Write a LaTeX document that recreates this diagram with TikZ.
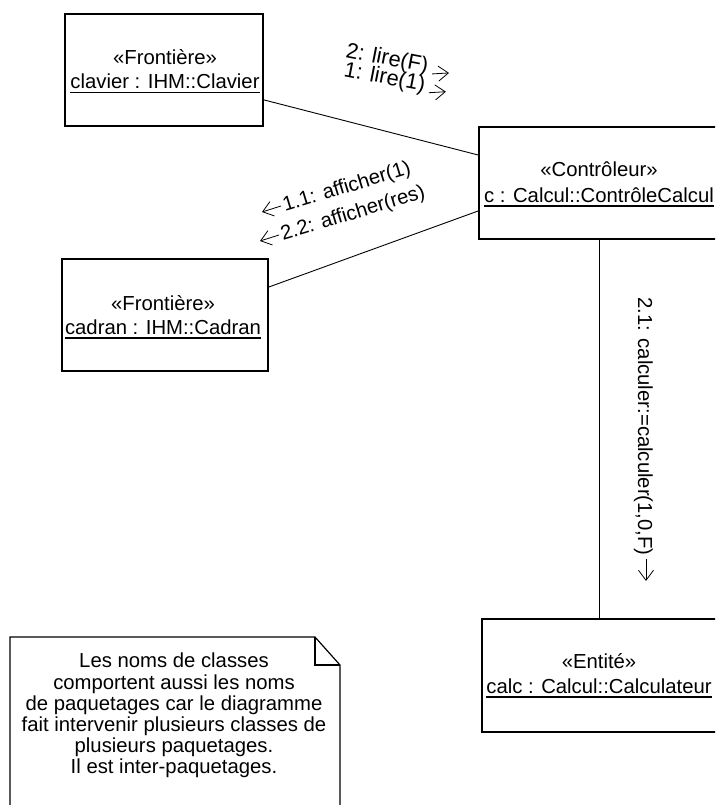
\documentclass[tikz,border=0pt]{standalone}
\usepackage{fontspec}
\setmainfont{Liberation Sans}
\usetikzlibrary{calc,arrows.meta}

\newcommand\umlfont{\fontsize{20.3}{21.1}\selectfont}
\newcommand\lirefont{\fontsize{21.8}{22}\selectfont}

\tikzset{
  objbox/.style={draw, line width=1.8pt, rectangle, inner sep=0pt},
  boxtext/.style={anchor=base, inner sep=0pt, font=\umlfont},
  underl/.style={line width=1.6pt},
  link/.style={line width=0.9pt},
  msg/.style={inner sep=0pt, font=\umlfont},
  msgarrow/.style={line width=0.8pt, -{Straight Barb[length=10pt,width=15pt]}},
  notepen/.style={line width=1.2pt},
}

\begin{document}
\begin{tikzpicture}[x=1pt,y=-1pt]
\clip (0,0) rectangle (715,805);
\fill[white] (0,0) rectangle (715,805);

% --- objects -------------------------------------------------------
\node[objbox, minimum width=198pt, minimum height=112pt] (clavier) at (164,70) {};
\node[boxtext] (clavierSt) at (165,65) {«Frontière»};
\node[boxtext] (clavierNm) at (165,89) {clavier : IHM::Clavier};
\draw[underl] ($(clavierNm.base west)+(0,3.7)$) -- ($(clavierNm.base east)+(0,3.7)$);

\node[objbox, minimum width=240pt, minimum height=112pt] (ctrl) at (599,183) {};
\node[boxtext] (ctrlSt) at (599,177) {«Contrôleur»};
\node[boxtext] (ctrlNm) at (599,202) {c : Calcul::ContrôleCalcul};
\draw[underl] ($(ctrlNm.base west)+(0,3.7)$) -- ($(ctrlNm.base east)+(0,3.7)$);

\node[objbox, minimum width=206pt, minimum height=112pt] (cadran) at (165,315) {};
\node[boxtext] (cadranSt) at (163,310) {«Frontière»};
\node[boxtext] (cadranNm) at (163,334) {cadran : IHM::Cadran};
\draw[underl] ($(cadranNm.base west)+(0,3.7)$) -- ($(cadranNm.base east)+(0,3.7)$);

\node[objbox, minimum width=236pt, minimum height=113pt] (calc) at (600,675.5) {};
\node[boxtext] (calcSt) at (599,668) {«Entité»};
\node[boxtext] (calcNm) at (599,693) {calc : Calcul::Calculateur};
\draw[underl] ($(calcNm.base west)+(0,3.7)$) -- ($(calcNm.base east)+(0,3.7)$);

% --- links ---------------------------------------------------------
\draw[link] ($(clavier.south east)+(0,-27)$) -- ($(ctrl.west)+(0,-28)$);
\draw[link] ($(cadran.east)+(0,-28)$) -- ($(ctrl.west)+(0,28)$);
\draw[link] (ctrl.south) -- (ctrl.south |- calc.north);

% --- messages ------------------------------------------------------
\node[msg, font=\lirefont, anchor=base west, rotate=-11] (m2) at (345,57) {2: lire(F)};
\node[msg, font=\lirefont, anchor=base west, rotate=-11] (m1) at (343,76) {1: lire(1)};
\draw[msgarrow] ($(m2.base east)+(5,1)$) -- ++(17,-1);
\draw[msgarrow] ($(m1.base east)+(5,1)$) -- ++(17,-1);

\node[msg, anchor=base west, rotate=17] (a1) at (285,212) {1.1: afficher(1)};
\node[msg, anchor=base west, rotate=17] (a2) at (283,241) {2.2: afficher(res)};
\draw[msgarrow] ($(a1.base west)+(-4,-6)$) -- ++(-19,6);
\draw[msgarrow] ($(a2.base west)+(-4,-6)$) -- ++(-19,6);

\node[msg, anchor=base west, rotate=-90] (c21) at (638,297) {2.1: calculer:=calculer(1,0,F)};
\draw[msgarrow] ($(c21.base east)+(8,3)$) -- ++(0,22);

% --- note ----------------------------------------------------------
\draw[notepen] (10,812) -- (10,637) -- (315,637) -- (340,665) -- (340,812);
\draw[notepen] (315,637) -- (315,665) -- (340,665);
\node[msg, align=center, anchor=north] (note) at (174,653) {Les noms de classes\\comportent aussi les noms\\de paquetages car le diagramme\\fait intervenir plusieurs classes de\\plusieurs paquetages.\\Il est inter-paquetages.};
\end{tikzpicture}
\end{document}
